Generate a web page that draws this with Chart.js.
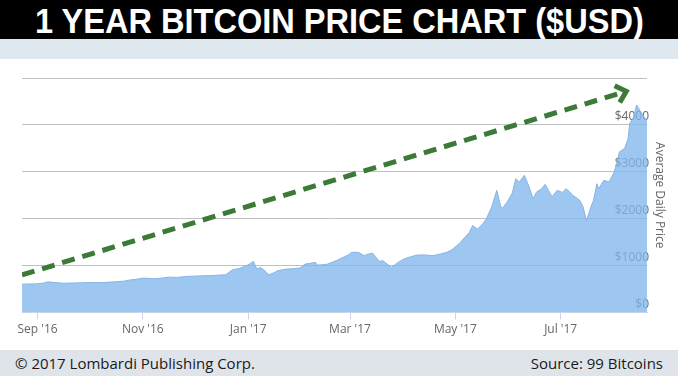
<!DOCTYPE html>
<html>
<head>
<meta charset="utf-8">
<script src="https://cdn.jsdelivr.net/npm/chart.js@4"></script>
<style>
  body { margin: 0; width: 678px; height: 376px; background: #fff; overflow: hidden; position: relative; font-family: "Open Sans", sans-serif; }
  #banner { position: absolute; left: 0; top: 0; width: 678px; height: 39px; background: #000; color: #fff; text-align: center; }
  #banner span { display: inline-block; font-family: "Liberation Sans", Arial, sans-serif; font-weight: bold; font-size: 35px;
                 line-height: 41px; transform: scaleX(0.93); white-space: nowrap; }
  #strip { position: absolute; left: 0; top: 39px; width: 678px; height: 20px; background: #dfe7ef; }
  #chart-box { position: absolute; left: 0; top: 58px; width: 678px; height: 292px; }
  #footer { position: absolute; left: 0; top: 350px; width: 678px; height: 26px; background: #dfe4ea; color: #1a1a1a; font-size: 15px; }
  #footer .left { position: absolute; left: 15px; top: 3px; }
  #footer .right { position: absolute; right: 15px; top: 3px; }
</style>
</head>
<body>
<div id="banner"><span>1 YEAR BITCOIN PRICE CHART ($USD)</span></div>
<div id="strip"></div>
<div id="chart-box"><canvas id="btc-chart"></canvas></div>
<div id="footer"><span class="left">© 2017 Lombardi Publishing Corp.</span><span class="right">Source: 99 Bitcoins</span></div>
<script>
// Days counted from 1 Sep 2016
const priceDays = [-9, -5, -1, 3, 6, 10, 15, 20, 26, 32, 38, 45, 50, 53, 57, 61, 65, 68, 72, 76, 81, 86, 91, 96,
    101, 106, 109, 113, 117, 121, 123, 125, 127, 129, 131, 134, 137, 139, 144, 148, 152, 155, 158, 161, 162, 165,
    168, 173, 177, 180, 182, 186, 189, 192, 194, 196, 198, 200, 203, 205, 208, 212, 216, 220, 224, 229, 233, 237,
    240, 243, 245, 247, 250, 252, 254, 255, 258, 260, 263, 266, 268, 269, 272, 275, 277, 279, 282, 285, 287, 289,
    292, 294, 296, 298, 301, 304, 306, 308, 310, 312, 314, 316, 318, 320, 322, 324, 325, 328, 331, 334, 336, 337,
    340, 342, 343, 345, 346, 347, 349, 350, 352, 353];
const prices = [606, 610, 612, 627, 655, 640, 625, 630, 636, 640, 640, 657, 670, 692, 710, 735, 728, 722, 735, 756,
    750, 770, 777, 786, 790, 800, 807, 914, 942, 1000, 1040, 1092, 927, 960, 914, 807, 850, 893, 927, 935, 949, 1034,
    1050, 1071, 1013, 1020, 1034, 1107, 1178, 1230, 1285, 1285, 1214, 1250, 1270, 1180, 1092, 1107, 1020, 964, 1049,
    1140, 1190, 1227, 1230, 1214, 1245, 1285, 1340, 1431, 1500, 1585, 1700, 1856, 1800, 1783, 1900, 2000, 2250, 2606,
    2300, 2212, 2355, 2550, 2855, 2784, 2927, 2650, 2426, 2570, 2640, 2734, 2600, 2469, 2606, 2560, 2641, 2580, 2500,
    2450, 2394, 2250, 1950, 2200, 2394, 2747, 2641, 2820, 2784, 2998, 3250, 3426, 3497, 3700, 4032, 4150, 4283, 4425,
    4300, 4246, 4139, 4050];

// Trend arrow, start and end in data units
const trendDays = [-9, 341];
const trendPrices = [803, 4715];

const tickDays = [0, 61, 122, 181, 242, 303];
const tickLabels = ["Sep '16", "Nov '16", "Jan '17", "Mar '17", "May '17", "Jul '17"];
const yTicks = [0, 1000, 2000, 3000, 4000, 5000];

const arrowColor = "#3b7a37";

// Draws the arrowhead at the end of the trend line
const arrowHead = {
    id: "arrowHead",
    afterDatasetsDraw(chart) {
        const pts = chart.getDatasetMeta(1).data;
        const a = pts[pts.length - 2], b = pts[pts.length - 1];
        const ang = Math.atan2(b.y - a.y, b.x - a.x);
        const len = 13, spread = 0.75;
        const ctx = chart.ctx;
        ctx.save();
        ctx.strokeStyle = arrowColor;
        ctx.lineWidth = 5;
        ctx.lineCap = "butt";
        ctx.lineJoin = "miter";
        ctx.beginPath();
        ctx.moveTo(b.x - len * Math.cos(ang - spread), b.y - len * Math.sin(ang - spread));
        ctx.lineTo(b.x, b.y);
        ctx.lineTo(b.x - len * Math.cos(ang + spread), b.y - len * Math.sin(ang + spread));
        ctx.stroke();
        ctx.restore();
    }
};

const ctx = document.getElementById("btc-chart").getContext("2d");
new Chart(ctx, {
    type: "line",
    data: {
        datasets: [
            {
                label: "Average Daily Price",
                data: priceDays.map((d, i) => ({ x: d, y: prices[i] })),
                borderColor: "#86b5e8",
                borderWidth: 1,
                backgroundColor: "rgba(130,182,236,0.78)",
                fill: "origin",
                pointRadius: 0,
                tension: 0
            },
            {
                label: "Trend",
                data: trendDays.map((d, i) => ({ x: d, y: trendPrices[i] })),
                borderColor: arrowColor,
                borderWidth: 5,
                borderDash: [13, 8],
                fill: false,
                pointRadius: 0
            }
        ]
    },
    options: {
        responsive: true,
        maintainAspectRatio: false,
        animation: false,
        layout: { padding: { left: 22, top: 20, bottom: 10, right: 0 } },
        plugins: { legend: { display: false }, tooltip: { enabled: false } },
        scales: {
            x: {
                type: "linear",
                min: priceDays[0],
                max: priceDays[priceDays.length - 1],
                afterBuildTicks: (scale) => { scale.ticks = tickDays.map((v) => ({ value: v })); },
                ticks: {
                    autoSkip: false,
                    maxRotation: 0,
                    padding: 3,
                    color: "#666",
                    font: { family: "Open Sans", size: 12 },
                    callback: (v) => tickLabels[tickDays.indexOf(v)]
                },
                grid: { drawOnChartArea: false, drawTicks: true, tickLength: 7, color: "#ccd6eb" },
                border: { display: true, color: "#ccd6eb" }
            },
            // gridlines only, drawn under the area
            y: {
                position: "right",
                min: 0,
                max: 5000,
                afterBuildTicks: (scale) => { scale.ticks = yTicks.map((v) => ({ value: v })); },
                afterFit: (scale) => { scale.width = 0; },
                ticks: { display: false },
                grid: { color: "#c0c0c0", drawTicks: false },
                border: { display: false }
            },
            // labels and title, drawn over the area
            yLabels: {
                position: "right",
                z: 1,
                min: 0,
                max: 5000,
                afterBuildTicks: (scale) => { scale.ticks = yTicks.map((v) => ({ value: v })); },
                afterFit: (scale) => { scale.width = 31; },
                ticks: {
                    mirror: true,
                    padding: 2,
                    labelOffset: -8,
                    color: "#666",
                    font: { family: "Open Sans", size: 12 },
                    callback: (v) => (v === 5000 ? "" : "$" + v)
                },
                grid: { display: false, drawTicks: false },
                border: { display: false },
                title: {
                    display: true,
                    text: "Average Daily Price",
                    color: "#666",
                    font: { family: "Open Sans", size: 12 },
                    padding: { top: 11, bottom: 0 }
                }
            }
        }
    },
    plugins: [arrowHead]
});
</script>
</body>
</html>
